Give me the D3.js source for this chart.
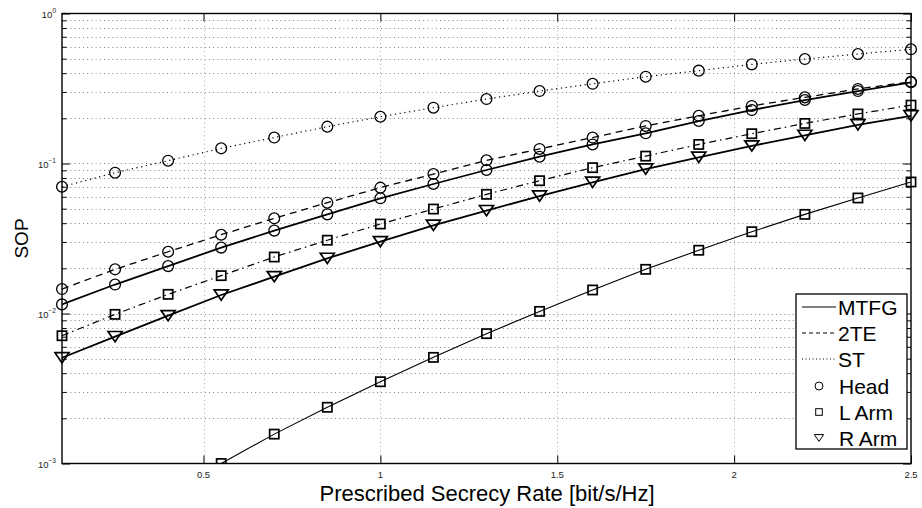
<!DOCTYPE html>
<html>
<head>
<meta charset="utf-8">
<script src="https://cdn.jsdelivr.net/npm/d3@7"></script>
<style>
  html, body { margin: 0; padding: 0; background: #fff; }
  svg { display: block; font-family: "Liberation Sans", Arial, Helvetica, sans-serif; }
</style>
</head>
<body>
<svg id="chart" width="922" height="508"></svg>
<script>
// Prescribed secrecy rate (bit/s/Hz) at which each curve is evaluated
const rates = [0.1, 0.25, 0.4, 0.55, 0.7, 0.85, 1.0, 1.15, 1.3, 1.45, 1.6, 1.75, 1.9, 2.05, 2.2, 2.35, 2.5];

// Secrecy outage probability per scheme / location
const stHead   = [0.070, 0.0868, 0.1044, 0.1262, 0.149, 0.176, 0.205, 0.2355, 0.269, 0.304, 0.340, 0.379, 0.416, 0.458, 0.497, 0.537, 0.577];
const teHead   = [0.01456, 0.0197, 0.0258, 0.0335, 0.0431, 0.0548, 0.069, 0.0851, 0.105, 0.125, 0.149, 0.178, 0.208, 0.242, 0.276, 0.314, 0.351];
const mtfgHead = [0.0115, 0.0156, 0.0207, 0.0275, 0.0357, 0.0458, 0.0586, 0.073, 0.0905, 0.111, 0.134, 0.159, 0.192, 0.227, 0.265, 0.304, 0.348];
const teLArm   = [0.00711, 0.00987, 0.01342, 0.01788, 0.0238, 0.0308, 0.0395, 0.0497, 0.0623, 0.0768, 0.0938, 0.112, 0.134, 0.158, 0.185, 0.214, 0.245];
const mtfgRArm = [0.00507, 0.00701, 0.00967, 0.01328, 0.0176, 0.0233, 0.0301, 0.0387, 0.0485, 0.0607, 0.0749, 0.0919, 0.110, 0.131, 0.154, 0.181, 0.208];
const mtfgLArm = [null, null, null, 0.001, 0.00157, 0.00237, 0.00351, 0.0051, 0.00734, 0.01033, 0.01435, 0.0197, 0.0264, 0.0351, 0.0458, 0.0589, 0.0753];

// Axis ticks
const xTicks = [0.5, 1, 1.5, 2, 2.5];
const xTickLabels = ["0.5", "1", "1.5", "2", "2.5"];
const yDecades = [1e-3, 1e-2, 1e-1, 1];
const yExponents = ["\u22123", "\u22122", "\u22121", "0"];

// Legend entries
const legendLines = [
  { label: "MTFG", dash: null },
  { label: "2TE", dash: "4,3" },
  { label: "ST", dash: "1,2.5" }
];
const legendMarkers = [
  { label: "Head", shape: "circle" },
  { label: "L Arm", shape: "square" },
  { label: "R Arm", shape: "triangle" }
];

const series = [
  { values: stHead,   dash: "1.2,3.6", width: 1.2, shape: "circle" },
  { values: teHead,   dash: "7,5",     width: 1.3, shape: "circle" },
  { values: mtfgHead, dash: null,      width: 1.8, shape: "circle" },
  { values: teLArm,   dash: "7,4,1.5,4", width: 1.2, shape: "square" },
  { values: mtfgRArm, dash: null,      width: 1.8, shape: "triangle" },
  { values: mtfgLArm, dash: null,      width: 1.1, shape: "square" }
];

const L = 62, R = 911, T = 13.5, B = 463.5;
const svg = d3.select("#chart");
const x = d3.scaleLinear().domain([0.1, 2.5]).range([L, R]);
const y = d3.scaleLog().domain([1e-3, 1]).range([B, T]);

// minor decade values
const minor = [];
for (let d = 0; d < 3; d++) {
  for (let m = 2; m <= 9; m++) minor.push(m * yDecades[d]);
}

// grid
const grid = svg.append("g").attr("stroke", "#808080").attr("stroke-width", 1)
  .attr("stroke-dasharray", "1,3.2").attr("fill", "none");
grid.selectAll("line.h").data(minor.concat([1e-2, 1e-1])).join("line")
  .attr("x1", L).attr("x2", R)
  .attr("y1", d => Math.round(y(d)) + 0.5).attr("y2", d => Math.round(y(d)) + 0.5);
grid.selectAll("line.v").data(xTicks.slice(0, 4)).join("line")
  .attr("y1", T).attr("y2", B)
  .attr("x1", d => Math.round(x(d)) + 0.5).attr("x2", d => Math.round(x(d)) + 0.5)
  .attr("stroke", "#aaaaaa");

// clip for curves
svg.append("clipPath").attr("id", "plotclip").append("rect")
  .attr("x", L - 8).attr("y", T).attr("width", R - L + 16).attr("height", B - T + 0.5);

const marks = svg.append("g").attr("clip-path", "url(#plotclip)");

function drawMarker(g, shape, cx, cy, s, sw) {
  if (shape === "circle") {
    g.append("circle").attr("cx", cx).attr("cy", cy).attr("r", s)
      .attr("fill", "none").attr("stroke", "#000").attr("stroke-width", sw);
  } else if (shape === "square") {
    g.append("rect").attr("x", cx - s).attr("y", cy - s).attr("width", 2 * s).attr("height", 2 * s)
      .attr("fill", "none").attr("stroke", "#000").attr("stroke-width", sw);
  } else {
    const w = s * 1.3, h = s * 0.95;
    g.append("path")
      .attr("d", `M${cx - w},${cy - h}L${cx + w},${cy - h}L${cx},${cy + h}Z`)
      .attr("fill", "none").attr("stroke", "#000").attr("stroke-width", sw).attr("stroke-linejoin", "miter");
  }
}

const line = d3.line()
  .defined(d => d[1] !== null)
  .x(d => x(d[0])).y(d => y(d[1]));

series.forEach(s => {
  const pts = rates.map((r, i) => [r, s.values[i]]);
  marks.append("path").datum(pts).attr("d", line)
    .attr("fill", "none").attr("stroke", "#000").attr("stroke-width", s.width)
    .attr("stroke-dasharray", s.dash);
});
series.forEach(s => {
  const g = marks.append("g");
  rates.forEach((r, i) => {
    const v = s.values[i];
    if (v === null) return;
    const size = s.shape === "circle" ? 5.4 : (s.shape === "square" ? 4.6 : 5.4);
    const sw = s.shape === "circle" ? 1.3 : 1.7;
    drawMarker(g, s.shape, x(r), y(v), size, sw);
  });
});

// axes box
svg.append("rect").attr("x", L).attr("y", T).attr("width", R - L).attr("height", B - T)
  .attr("fill", "none").attr("stroke", "#000").attr("stroke-width", 1.4);

// ticks (inward), all four sides
const tickG = svg.append("g").attr("stroke", "#000").attr("stroke-width", 1);
const axB = d3.axisBottom(x).tickValues(xTicks).tickSize(-8).tickFormat(() => "");
const axT = d3.axisTop(x).tickValues(xTicks).tickSize(-8).tickFormat(() => "");
tickG.append("g").attr("transform", `translate(0,${B})`).call(axB);
tickG.append("g").attr("transform", `translate(0,${T})`).call(axT);
const axL = d3.axisLeft(y).tickValues(yDecades).tickSize(-8).tickFormat(() => "");
const axR = d3.axisRight(y).tickValues(yDecades).tickSize(-8).tickFormat(() => "");
const axLm = d3.axisLeft(y).tickValues(minor).tickSize(-4.5).tickFormat(() => "");
const axRm = d3.axisRight(y).tickValues(minor).tickSize(-4.5).tickFormat(() => "");
tickG.append("g").attr("transform", `translate(${L},0)`).call(axL);
tickG.append("g").attr("transform", `translate(${R},0)`).call(axR);
tickG.append("g").attr("transform", `translate(${L},0)`).call(axLm);
tickG.append("g").attr("transform", `translate(${R},0)`).call(axRm);
tickG.selectAll(".domain").remove();
tickG.selectAll(".tick line").attr("stroke", "#000");

// x tick labels
svg.append("g").selectAll("text").data(xTicks).join("text")
  .attr("x", d => x(d)).attr("y", B + 14.5)
  .attr("text-anchor", "middle").attr("font-size", 9.5).attr("fill", "#222")
  .text((d, i) => xTickLabels[i]);

// y tick labels: 10^k
const yl = svg.append("g").attr("fill", "#222");
yDecades.forEach((d, i) => {
  const t = yl.append("text").attr("x", 56).attr("y", y(d) + 4)
    .attr("text-anchor", "end").attr("font-size", 9.5);
  t.append("tspan").text("10");
  t.append("tspan").attr("dy", -5).attr("font-size", 6.5).text(yExponents[i]);
});

// axis titles
svg.append("text").attr("x", 487).attr("y", 501)
  .attr("text-anchor", "middle").attr("font-size", 22).attr("fill", "#000")
  .text("Prescribed Secrecy Rate [bit/s/Hz]");
svg.append("text").attr("transform", `translate(28,${(T + B) / 2}) rotate(-90)`)
  .attr("text-anchor", "middle").attr("font-size", 19).attr("fill", "#000")
  .text("SOP");

// legend
const lg = svg.append("g");
lg.append("rect").attr("x", 796).attr("y", 294).attr("width", 111).attr("height", 155)
  .attr("fill", "#fff").attr("stroke", "#000").attr("stroke-width", 1.3);
const rowY = [307, 333, 359, 386, 412, 438];
legendLines.forEach((e, i) => {
  lg.append("line").attr("x1", 802).attr("x2", 836).attr("y1", rowY[i]).attr("y2", rowY[i])
    .attr("stroke", "#000").attr("stroke-width", 1).attr("stroke-dasharray", e.dash);
  lg.append("text").attr("x", 838).attr("y", rowY[i] + 7.5).attr("font-size", 21).text(e.label);
});
legendMarkers.forEach((e, i) => {
  const yy = rowY[i + 3];
  const s = e.shape === "circle" ? 4 : (e.shape === "square" ? 3.3 : 3.6);
  drawMarker(lg, e.shape, 819, yy, s, 1);
  lg.append("text").attr("x", 839).attr("y", yy + 7.5).attr("font-size", 21).text(e.label);
});
</script>
</body>
</html>
